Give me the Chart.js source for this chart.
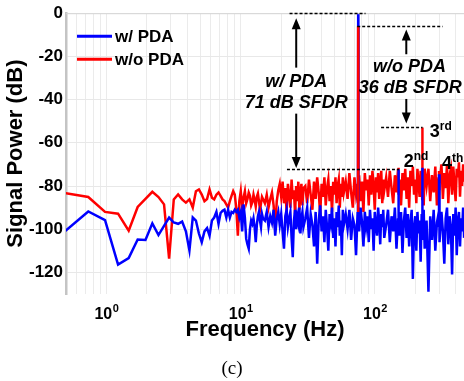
<!DOCTYPE html>
<html>
<head>
<meta charset="utf-8">
<script src="https://cdn.jsdelivr.net/npm/chart.js@4.4.1/dist/chart.umd.min.js"></script>
<style>
  html, body { margin: 0; padding: 0; background: #fff; }
  #wrap { position: relative; width: 464px; height: 381px; }
  #cap { position: absolute; left: 0; top: 357px; width: 464px; text-align: center;
         font: 19px "Liberation Serif", "Times New Roman", serif; color: #000; }
</style>
</head>
<body>
<div id="wrap">
  <canvas id="c" width="464" height="381"></canvas>
  <div id="cap">(c)</div>
</div>
<script>
// FFT bin width (Hz) and the bins that are plotted
const BIN_HZ = 1000 / 4096;
const bins = [
  2,3,4,5,6,7,8,9,10,11,12,13,14,15,16,17,18,19,20,21,22,23,24,25,26,27,28,29,30,31,32,33,34,35,36,37,38,39,40,41,
  42,43,44,45,46,47,48,49,50,51,52,53,54,55,56,57,58,59,60,
  62,64,66,68,70,72,74,76,78,80,82,84,86,88,90,92,94,96,98,100,102,104,106,108,110,112,114,116,118,120,
  124,128,132,136,140,144,148,152,156,160,164,168,172,176,180,184,188,192,196,200,204,208,212,216,220,224,228,232,236,240,
  248,256,264,272,280,288,296,304,306,307,308,312,320,328,336,344,352,360,368,376,384,392,400,408,416,424,432,440,448,456,464,472,480,
  496,512,528,544,560,576,592,608,613,614,615,624,640,656,672,688,704,720,736,752,768,784,800,816,832,848,864,880,896,912,920,921,922,928,944,960,
  992,1024,1056,1088,1120,1152,1184,1216,1227,1228,1229,1248,1280,1312,1344,1376,1408,1440,1472,1504,1536,1568,1600,1632,1664,1696,1728,1760,1792,1824,1856,1888
];

// w/o PDA (red), dB
const redDb = [
  -83.2,-85.1,-92,-92.8,-100.7,-89.7,-86,-82.7,-85.1,-88.5,-113.6,-86.2,-83.9,-86.2,-87.7,-86.2,-90,-82.4,-81.6,-84,-87,-86,-81.6,-85.4,-86.2,-84,-83,-84.6,-86.2,-87,-88.5,-90,-87,-84.6,-82.4,-84,-90.7,-103,-87,-82.4,
  -90,-85.4,-82.4,-88,-86,-83,-84.5,-89,-87.5,-84,-86.5,-89.5,-85,-83.5,-87,-91,-88,-85,-86,
  -88,-84,-90,-86,-83,-89,-100,-87,-82,-79,-85,-78,-88,-81,-92,-79,-84,-90,-77,-86,-82,-93,-80,-87,-78,-91,-83,-79,-89,-81,
  -80,-88,-77,-84,-91,-78,-86,-76,-83,-93,-79,-85,-76,-89,-81,-77,-87,-80,-92,-78,-84,-76,-88,-80,-77,-90,-79,-85,-76,-83,
  -78,-86,-74,-83,-90,-76,-84,-79,-88,-6,-85,-75,-87,-78,-92,-74,-82,-77,-89,-75,-84,-73,-80,-91,-76,-83,-74,-86,-78,-73,-88,-77,-82,
  -76,-85,-73,-81,-88,-75,-83,-72,-80,-71.5,-84,-77,-89,-74,-82,-72,-86,-76,-90,-73,-80,-71,-84,-77,-88,-72,-79,-85,-73,-81,-86,-52.9,-83,-74,-89,-72,
  -80,-72,-87,-75,-83,-71,-89,-76,-84,-73,-82,-79,-70,-86,-74,-81,-70,-88,-75,-72,-84,-71,-79,-87,-72,-76,-69,-85,-73,-80,-70,-78
];

// w/ PDA (blue), dB
const blueDb = [
  -101.1,-91.8,-95.8,-116.4,-113.4,-104.8,-105,-97.3,-102.7,-98.5,-94.6,-96.9,-97.5,-96.5,-101,-109.8,-94.6,-96,-102,-106,-101,-99.5,-103,-96,-94.6,-92,-97.5,-92.5,-91.5,-91,-94.6,-91,-94.6,-92,-92.5,-91,-92,-91,-94.6,-92,
  -101,-88.5,-94.6,-104.5,-107,-109,-100,-96,-97.5,-95,-99,-106,-98,-94,-92,-96,-99,-93,-95,
  -96,-92,-99,-94,-97,-91,-103,-95,-92,-98,-93,-101,-109,-94,-91,-99,-95,-92,-104,-113,-96,-91,-100,-94,-97,-90,-102,-95,-92,-99,
  -95,-90,-104,-93,-98,-108,-92,-116,-96,-89,-101,-94,-106,-91,-99,-110,-93,-97,-90,-104,-95,-108,-92,-99,-89,-103,-96,-112,-91,-98,
  -93,-100,-91,-105,-95,-98,-112,-92,-96,0,-94,-101,-90,-97,-108,-92,-99,-94,-106,-91,-100,-95,-110,-92,-98,-103,-90,-96,-107,-93,-99,-91,-104,
  -98,-91,-106,-94,-101,-90,-109,-95,-98,-72.3,-97,-103,-92,-111,-96,-90,-104,-93,-108,-97,-91,-123,-99,-94,-110,-92,-102,-96,-115,-93,-100,-71.5,-98,-105,-91,-109,
  -96,-129,-94,-105,-91,-110,-97,-93,-99,-74.6,-100,-106,-92,-101,-116,-95,-90,-107,-94,-99,-121,-93,-103,-90,-112,-96,-92,-108,-95,-101,-90,-104
];

// red fundamental tone (drawn again on top of the blue trace)
const fundamentalBin = 307;
const redFundamentalDb = -6;
const redFloorDb = -92;

const xTicks = [0.5,0.6,0.7,0.8,0.9,1,2,3,4,5,6,7,8,9,10,20,30,40,50,60,70,80,90,100,200,300,400];
const xDecades = [[1, '0'], [10, '1'], [100, '2']];   // labelled ticks: value, exponent
const yTicks = [0, -20, -40, -60, -80, -100, -120];

// annotations, in data units
const dashedRefs = [   // [fromHz, toHz, dB]
  [23.1, 85, 0], [22.1, 151, -72.2], [73.7, 319, -6.1], [111, 226, -52.9]
];
const arrows = [       // [Hz, tailDb, tipDb]
  [25.9, -25.2, -2.3], [25.9, -46.5, -71.7], [171, -19, -7.6], [171, -39.7, -51.1]
];
const notes = [        // [Hz, dB, text]
  [25.9, -31.8, 'w/ PDA'], [25.9, -41.6, '71 dB SFDR'],
  [181, -25, 'w/o PDA'], [183, -34.6, '36 dB SFDR']
];
const harmonicLabels = [ // [Hz, baseline dB, number, suffix]
  [256, -57.2, '3', 'rd'], [163.6, -71.4, '2', 'nd'], [315, -72.3, '4', 'th']
];

const FONT = '"Liberation Sans", Arial, Helvetica, sans-serif';
const BLUE = '#0000ff';
const RED = '#ff0000';

const toPoints = vals => bins.map((b, i) => ({ x: b * BIN_HZ, y: vals[i] }));

const overlay = {
  id: 'overlay',
  afterDraw(chart) {
    const { ctx, chartArea: a, scales: { x, y } } = chart;
    ctx.save();

    // faint top frame
    ctx.strokeStyle = '#d6d6d6';
    ctx.lineWidth = 1;
    ctx.beginPath();
    ctx.moveTo(a.left, a.top + 0.5);
    ctx.lineTo(a.right, a.top + 0.5);
    ctx.stroke();

    // decade labels 10^n under the x axis
    ctx.fillStyle = '#000';
    ctx.textBaseline = 'alphabetic';
    ctx.textAlign = 'left';
    xDecades.forEach(([v, e]) => {
      ctx.font = 'bold 16px ' + FONT;
      const wBase = ctx.measureText('10').width;
      ctx.font = 'bold 11px ' + FONT;
      const wExp = ctx.measureText(e).width;
      const left = x.getPixelForValue(v) - (wBase + wExp) / 2;
      const base = a.bottom + 25;
      ctx.font = 'bold 16px ' + FONT;
      ctx.fillText('10', left, base);
      ctx.font = 'bold 11px ' + FONT;
      ctx.fillText(e, left + wBase + 0.5, base - 7);
    });

    // legend inside the plot
    ctx.font = 'bold 17px ' + FONT;
    ctx.textBaseline = 'middle';
    chart.data.datasets.filter(d => !d.hidden_legend).forEach((d, i) => {
      const ly = a.top + 23 + i * 23;
      ctx.strokeStyle = d.borderColor;
      ctx.lineWidth = 3;
      ctx.beginPath();
      ctx.moveTo(a.left + 11, ly);
      ctx.lineTo(a.left + 46, ly);
      ctx.stroke();
      ctx.fillStyle = '#000';
      ctx.fillText(d.label, a.left + 49, ly + 1);
    });

    // dashed reference levels
    ctx.strokeStyle = '#000';
    ctx.lineWidth = 1.4;
    ctx.setLineDash([3, 2]);
    dashedRefs.forEach(([f0, f1, db]) => {
      const py = Math.round(y.getPixelForValue(db)) + 0.5;
      ctx.beginPath();
      ctx.moveTo(x.getPixelForValue(f0), py);
      ctx.lineTo(x.getPixelForValue(f1), py);
      ctx.stroke();
    });
    ctx.setLineDash([]);

    // arrows
    ctx.fillStyle = '#000';
    ctx.lineWidth = 2;
    arrows.forEach(([f, tail, tip]) => {
      const px = x.getPixelForValue(f);
      const y0 = y.getPixelForValue(tail);
      const y1 = y.getPixelForValue(tip);
      const dir = y1 < y0 ? -1 : 1;
      ctx.beginPath();
      ctx.moveTo(px, y0);
      ctx.lineTo(px, y1 - dir * 8);
      ctx.stroke();
      ctx.beginPath();
      ctx.moveTo(px, y1);
      ctx.lineTo(px - 4.5, y1 - dir * 11);
      ctx.lineTo(px + 4.5, y1 - dir * 11);
      ctx.closePath();
      ctx.fill();
    });

    // SFDR notes
    ctx.font = 'italic bold 18px ' + FONT;
    ctx.textAlign = 'center';
    ctx.textBaseline = 'middle';
    notes.forEach(([f, db, t]) => {
      ctx.fillText(t, x.getPixelForValue(f), y.getPixelForValue(db));
    });

    // harmonic labels with superscript suffix
    ctx.textAlign = 'left';
    ctx.textBaseline = 'alphabetic';
    harmonicLabels.forEach(([f, db, n, suf]) => {
      const px = x.getPixelForValue(f);
      const py = y.getPixelForValue(db);
      ctx.font = 'bold 18px ' + FONT;
      ctx.fillText(n, px, py);
      const w = ctx.measureText(n).width;
      ctx.font = 'bold 12px ' + FONT;
      ctx.fillText(suf, px + w, py - 7);
    });

    ctx.restore();
  }
};

new Chart(document.getElementById('c'), {
  type: 'line',
  data: {
    datasets: [
      {
        label: 'fundamental',
        hidden_legend: true,
        data: [
          { x: fundamentalBin * BIN_HZ, y: redFundamentalDb },
          { x: fundamentalBin * BIN_HZ, y: redFloorDb }
        ],
        borderColor: RED, borderWidth: 2.5, pointRadius: 0
      },
      { label: 'w/ PDA', data: toPoints(blueDb), borderColor: BLUE, borderWidth: 2.5, pointRadius: 0, tension: 0 },
      { label: 'w/o PDA', data: toPoints(redDb), borderColor: RED, borderWidth: 2.5, pointRadius: 0, tension: 0 }
    ]
  },
  options: {
    responsive: false,
    animation: false,
    events: [],
    layout: { padding: { top: 10, right: 0, bottom: 38, left: 0 } },
    plugins: { legend: { display: false }, tooltip: { enabled: false } },
    scales: {
      x: {
        type: 'logarithmic',
        min: 0.5,
        max: 460,
        afterBuildTicks: s => { s.ticks = xTicks.map(v => ({ value: v })); },
        afterFit: s => { s.height = 49; },
        ticks: { autoSkip: false, maxRotation: 0, callback: () => '' },
        grid: { color: '#ebebeb', drawTicks: false },
        border: { display: false },
        title: {
          display: true, text: 'Frequency (Hz)', color: '#000', padding: 0,
          font: { family: FONT, size: 22, weight: 'bold' }
        }
      },
      y: {
        min: -130,
        max: 0,
        afterBuildTicks: s => { s.ticks = yTicks.map(v => ({ value: v })); },
        afterFit: s => { s.width = 66; },
        ticks: { padding: 3, color: '#000', font: { family: FONT, size: 17, weight: 'bold' } },
        grid: { color: '#e8e8e8', drawTicks: false },
        border: { color: '#c4c4c4', width: 2.5 },
        title: {
          display: true, text: 'Signal Power (dB)', color: '#000',
          padding: { top: 3, bottom: 0 },
          font: { family: FONT, size: 22, weight: 'bold' }
        }
      }
    }
  },
  plugins: [overlay]
});
</script>
</body>
</html>
